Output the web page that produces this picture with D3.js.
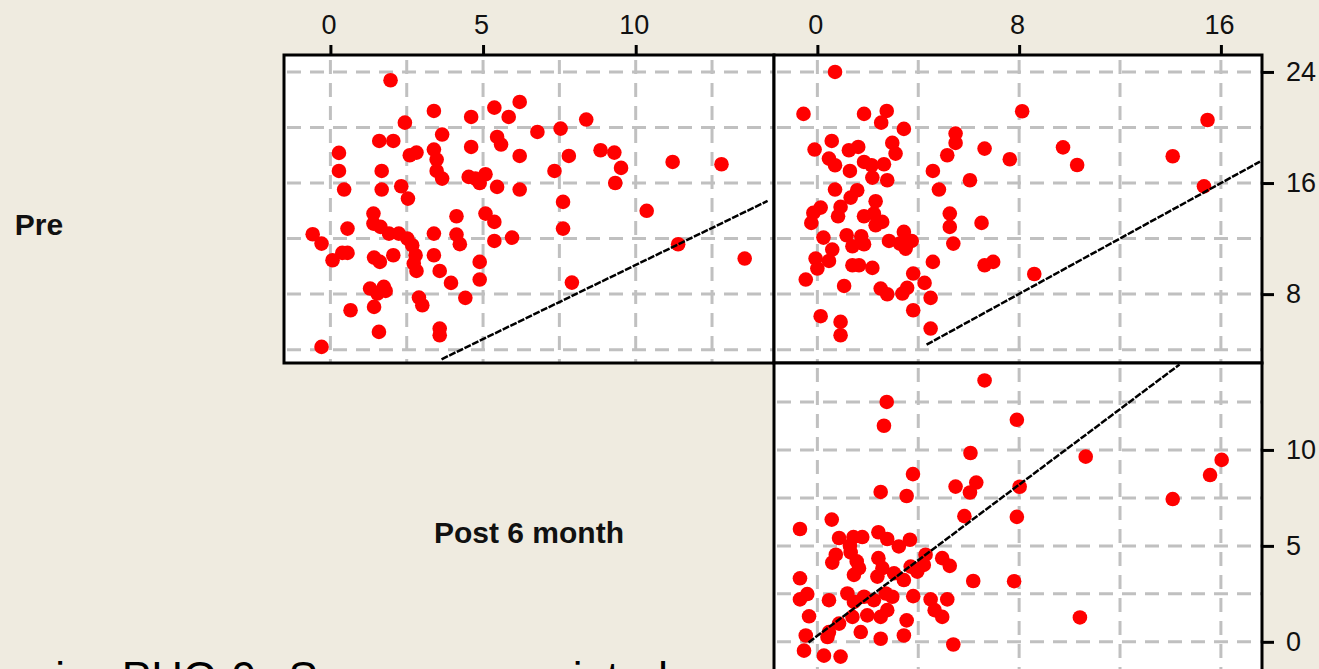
<!DOCTYPE html>
<html>
<head>
<meta charset="utf-8">
<script src="https://cdn.jsdelivr.net/npm/d3@7/dist/d3.min.js"></script>
<style>
  html, body { margin: 0; padding: 0; background: #EFEBE0; overflow: hidden; }
  svg { display: block; }
</style>
</head>
<body>
<svg id="chart" width="1319" height="669"></svg>
<script>
// ---- variables shown on the diagonal ----
const varNames = ["Pre", "Post 6 month"];

// ---- axis ticks and grid steps ----
const ticksPost6 = [0, 5, 10];
const ticksThird = [0, 8, 16];
const ticksPre = [8, 16, 24];
const gridPost6 = [0, 2.5, 5, 7.5, 10, 12.5];
const gridThird = [0, 4, 8, 12, 16];
const gridPre = [4, 8, 12, 16, 20, 24];

// ---- axis ranges ----
const domainPost6 = [-1.52, 14.53];
const domainThird = [-1.72, 17.63];
const domainPre = [3.04, 25.22];

// ---- panel: Post 6 month (x) against Pre (y) ----
const panelA_post6 = [1.97, 3.39, 4.61, 5.37, 5.84, 6.2, 2.44, 3.66, 1.6, 2.06, 0.28, 2.6, 2.82, 3.39, 3.48, 4.61, 5.46, 5.59, 6.2, 0.28,
  1.68, 3.48, 3.66, 4.53, 4.89, 5.08, 4.75, 5.46, 6.2, 0.45, 1.68, 2.32, 2.54, 1.41, 1.41, 1.64, 0.56, -0.58, -0.29, 4.13,
  5.08, 5.37, 1.92, 2.24, 2.52, 2.68, 3.39, 4.13, 4.24, 5.37, 5.95, 0.07, 0.39, 0.56, 1.43, 1.62, 2.06, 2.79, 2.73, 2.82,
  3.39, 3.58, 3.95, 4.89, 4.89, 1.3, 1.75, 1.54, 1.43, 2.9, 3.01, 4.42, 0.66, 1.59, 3.58, 3.58, -0.29, 1.81,
  6.78, 7.54, 8.38, 7.81, 7.34, 8.85, 9.3, 9.52, 9.33, 11.21, 12.81, 7.62, 10.36, 7.62, 11.39, 13.57, 7.91];
const panelA_pre = [23.4, 21.19, 20.76, 21.43, 20.76, 21.84, 20.35, 19.49, 19.03, 19.03, 18.17, 18.0, 18.19, 18.41, 17.69, 18.6, 19.32, 18.77, 17.95, 16.87,
  16.87, 16.87, 16.32, 16.44, 16.0, 16.63, 16.32, 15.72, 15.53, 15.53, 15.53, 15.77, 14.88, 13.8, 13.08, 12.84, 12.72, 12.31, 11.64, 13.61,
  13.8, 13.2, 12.36, 12.36, 12.0, 11.52, 12.36, 12.29, 11.6, 11.83, 12.07, 10.44, 10.97, 10.97, 10.63, 10.32, 10.8, 10.8, 10.2, 9.67,
  10.8, 9.67, 8.81, 10.32, 9.05, 8.4, 8.52, 8.04, 7.08, 7.75, 7.2, 7.73, 6.84, 5.28, 5.52, 5.04, 4.2, 8.23,
  19.68, 19.92, 20.57, 17.95, 16.87, 18.36, 18.19, 17.09, 16.0, 17.52, 17.35, 14.64, 14.0, 12.72, 11.59, 10.56, 8.83];

// ---- panel: third measurement (x) against Pre (y) ----
const panelB_third = [0.7, -0.55, 1.85, 2.75, 2.53, 3.43, 5.48, 5.48, 5.15, 6.63, 7.63, 0.57, -0.11, 1.25, 1.62, 2.97, 3.1, 0.46, 0.7, 1.29,
  1.85, 2.15, 2.64, 2.18, 2.77, 4.58, 6.05, 0.7, 1.58, 1.32, 2.31, 4.82, 0.13, -0.16, -0.24, 0.92, 0.82, 1.85, 2.24, 2.57,
  2.31, 5.25, 5.25, 6.51, 0.24, 1.16, 1.74, 1.39, 1.85, 2.84, 3.43, 3.5, 3.74, 3.27, 5.39, 0.59, 0.46, -0.07, 0.0, 1.39,
  1.65, 2.18, 4.58, 6.63, 6.97, -0.46, 1.06, 2.51, 2.77, 3.37, 3.56, 3.8, 4.25, 4.49, 3.8, 0.13, 0.92, 0.92, 4.49,
  8.12, 9.74, 10.3, 14.09, 15.47, 15.33, 8.6];
const panelB_pre = [24.0, 20.98, 20.98, 21.19, 20.35, 19.9, 19.56, 18.89, 18.0, 18.48, 17.71, 19.03, 18.41, 18.36, 18.6, 18.89, 18.12, 17.76, 17.28, 16.87,
  17.52, 17.28, 17.35, 16.39, 16.2, 16.87, 16.2, 15.53, 15.48, 14.95, 14.69, 15.53, 14.23, 13.85, 13.13, 14.28, 13.61, 13.61, 13.8, 13.2,
  12.96, 13.8, 12.84, 13.13, 12.07, 12.24, 12.17, 11.45, 11.59, 11.83, 12.48, 11.28, 11.83, 11.64, 11.64, 11.21, 10.39, 10.56, 9.84, 10.08,
  10.08, 9.89, 10.32, 10.08, 10.32, 9.05, 8.59, 8.4, 7.99, 8.04, 8.45, 9.48, 8.81, 7.73, 6.84, 6.41, 6.0, 5.04, 5.52,
  21.17, 18.57, 17.3, 17.93, 20.54, 15.76, 9.45];

// ---- panel: third measurement (x) against Post 6 month (y) ----
const panelC_third = [6.07, 3.79, 2.51, 3.54, 5.48, 6.3, 6.05, 5.83, 0.57, -0.69, 0.86, 1.43, 1.78, 2.42, 2.77, 3.23, 3.67, 1.29, 0.73, 0.59,
  1.56, 1.65, 1.45, 2.42, 2.58, 2.38, 4.29, 4.22, 3.96, 3.7, 3.43, 4.95, 5.25, 6.18, -0.69, -0.4, -0.69, 0.46, 1.19, 1.45,
  1.85, 2.24, 2.71, 2.77, 2.51, 1.98, 1.39, 3.8, 4.49, 5.15, 4.65, 4.95, -0.33, 3.54, 3.43, 2.51, 1.72, 0.86, 0.46, -0.46,
  -0.53, 0.26, 0.92, 5.39, 2.97, 1.32, 3.04, 0.4,
  6.63, 2.75, 2.64, 7.91, 10.64, 16.03, 15.57, 14.09, 8.02, 7.91, 7.8, 10.41];
const panelC_post6 = [9.84, 8.74, 7.81, 7.6, 8.09, 8.3, 7.78, 6.55, 6.37, 5.88, 5.41, 5.46, 5.46, 5.71, 5.36, 4.97, 5.32, 5.01, 4.54, 4.13,
  4.19, 3.84, 3.49, 4.36, 3.84, 3.4, 4.54, 4.01, 3.66, 3.92, 3.22, 4.36, 3.96, 3.17, 3.31, 2.49, 2.21, 2.17, 2.52, 2.08,
  2.35, 2.17, 2.52, 1.65, 1.3, 1.38, 1.3, 2.38, 2.21, 2.21, 1.65, 1.3, 1.33, 1.12, 0.33, 0.16, 0.51, 0.95, 0.51, 0.33,
  -0.46, -0.72, -0.77, -0.14, 2.35, 4.66, 3.57, 0.25,
  13.62, 12.5, 11.26, 11.57, 9.65, 9.48, 8.69, 7.44, 8.08, 6.51, 3.16, 1.27];

// ---- reference line end points (x, y) per panel ----
const refA = { x: [3.64, 14.32], y: [3.31, 14.71] };
const refB = { x: [4.33, 17.55], y: [4.36, 17.54] };
const refC = { x: [-0.35, 14.36], y: [-0.03, 14.45] };

// ---- caption under the matrix ----
const captionText = "Reduction in PHQ-9 Scores associated";

// ---- layout ----
const colEdges = [284, 774, 1262];
const rowEdges = [55, 363, 671];
const cellW = colEdges[1] - colEdges[0];

const svg = d3.select("#chart");
const zip = (xs, ys) => xs.map((x, i) => [x, ys[i]]);

const xPost6 = d3.scaleLinear().domain(domainPost6).range([colEdges[0], colEdges[1]]);
const xThird = d3.scaleLinear().domain(domainThird).range([colEdges[1], colEdges[2]]);
const yPre = d3.scaleLinear().domain(domainPre).range([rowEdges[1], rowEdges[0]]);
const yPost6 = d3.scaleLinear().domain(domainPost6).range([rowEdges[2], rowEdges[1]]);

const panels = [
  { id: "a", x: xPost6, y: yPre, gx: gridPost6, gy: gridPre, pts: zip(panelA_post6, panelA_pre), ref: refA },
  { id: "b", x: xThird, y: yPre, gx: gridThird, gy: gridPre, pts: zip(panelB_third, panelB_pre), ref: refB },
  { id: "c", x: xThird, y: yPost6, gx: gridThird, gy: gridPost6, pts: zip(panelC_third, panelC_post6), ref: refC }
];

const defs = svg.append("defs");

panels.forEach(p => {
  const [x0, x1] = p.x.range();
  const [y1, y0] = p.y.range();
  defs.append("clipPath").attr("id", "clip-" + p.id)
    .append("rect").attr("x", x0).attr("y", y0).attr("width", x1 - x0).attr("height", y1 - y0);

  const g = svg.append("g");
  g.append("rect").attr("x", x0).attr("y", y0).attr("width", x1 - x0).attr("height", y1 - y0)
    .attr("fill", "#ffffff");

  const inner = g.append("g").attr("clip-path", "url(#clip-" + p.id + ")");
  // dashed grid
  inner.selectAll("line.gv").data(p.gx).join("line")
    .attr("x1", d => p.x(d)).attr("x2", d => p.x(d))
    .attr("y1", y0 + 5).attr("y2", y1)
    .attr("stroke", "#C0C0C0").attr("stroke-width", 3).attr("stroke-dasharray", "14,9");
  inner.selectAll("line.gh").data(p.gy).join("line")
    .attr("y1", d => p.y(d)).attr("y2", d => p.y(d))
    .attr("x1", x0 + 3).attr("x2", x1)
    .attr("stroke", "#C0C0C0").attr("stroke-width", 3).attr("stroke-dasharray", "14,9");

  // observations
  inner.selectAll("circle").data(p.pts).join("circle")
    .attr("cx", d => p.x(d[0])).attr("cy", d => p.y(d[1]))
    .attr("r", 7.3).attr("fill", "#FF0000");

  // reference line
  inner.append("path")
    .datum(zip(p.ref.x, p.ref.y))
    .attr("d", d3.line().x(d => p.x(d[0])).y(d => p.y(d[1])))
    .attr("fill", "none").attr("stroke", "#000").attr("stroke-width", 2.5)
    .attr("stroke-dasharray", "7,1.5");

  // frame
  g.append("rect").attr("x", x0).attr("y", y0).attr("width", x1 - x0).attr("height", y1 - y0)
    .attr("fill", "none").attr("stroke", "#000").attr("stroke-width", 3);
});

// top axes
const topAxes = [[xPost6, ticksPost6], [xThird, ticksThird]];
topAxes.forEach(([sc, ticks]) => {
  const ax = d3.axisTop(sc).tickValues(ticks).tickSize(10).tickPadding(11).tickFormat(d3.format("d"));
  const g = svg.append("g").attr("transform", `translate(0,${rowEdges[0]})`).call(ax);
  g.select(".domain").remove();
  g.selectAll(".tick line").attr("stroke", "#000").attr("stroke-width", 3);
  g.selectAll(".tick text").attr("font-family", "Liberation Sans, Arial, sans-serif")
    .attr("font-size", 27).attr("fill", "#111").attr("dx", -2);
});

// right axes
const rightAxes = [[yPre, ticksPre], [yPost6, ticksPost6]];
rightAxes.forEach(([sc, ticks]) => {
  const ax = d3.axisRight(sc).tickValues(ticks).tickSize(12).tickPadding(12).tickFormat(d3.format("d"));
  const g = svg.append("g").attr("transform", `translate(${colEdges[2]},0)`).call(ax);
  g.select(".domain").remove();
  g.selectAll(".tick line").attr("stroke", "#000").attr("stroke-width", 3);
  g.selectAll(".tick text").attr("font-family", "Liberation Sans, Arial, sans-serif")
    .attr("font-size", 27).attr("fill", "#111");
});

// variable names on the diagonal cells
varNames.forEach((name, i) => {
  svg.append("text")
    .attr("x", colEdges[0] - cellW / 2 + i * cellW)
    .attr("y", (rowEdges[i] + rowEdges[i + 1]) / 2 + 26)
    .attr("text-anchor", "middle")
    .attr("font-family", "Liberation Sans, Arial, sans-serif")
    .attr("font-weight", "bold").attr("font-size", 30).attr("fill", "#111")
    .text(name);
});

// caption, running along the bottom edge
svg.append("text")
  .attr("x", -175).attr("y", 693)
  .attr("font-family", "Liberation Sans, Arial, sans-serif")
  .attr("font-size", 44).attr("word-spacing", 20).attr("fill", "#000")
  .text(captionText);
</script>
</body>
</html>
